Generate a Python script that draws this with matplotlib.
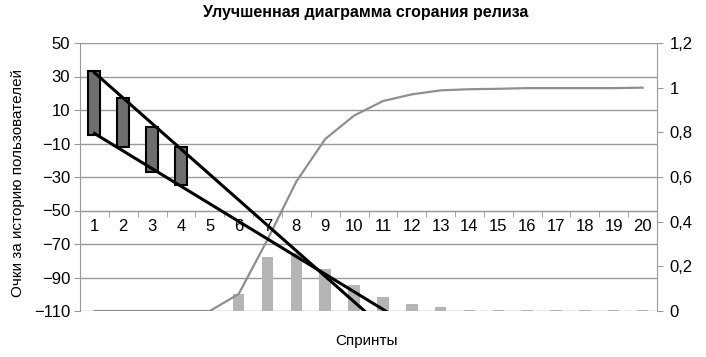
import numpy as np
import matplotlib
matplotlib.use("Agg")
import matplotlib.pyplot as plt
from matplotlib.ticker import FixedLocator, FuncFormatter

plt.rcParams['font.family'] = ['Liberation Sans', 'DejaVu Sans']

# ---- data ----
sprints = list(range(1, 21))
range_sprints = [1, 2, 3, 4]
range_top = [33, 17, 0, -12]
range_bottom = [-5, -12, -27, -35]
prob = [0, 0, 0, 0, 0, 0.076, 0.24, 0.26, 0.19, 0.117, 0.063, 0.031, 0.018,
        0.004, 0.003, 0.003, 0.003, 0.003, 0.003, 0.003]
cum = [0, 0, 0, 0, 0, 0.076, 0.32, 0.58, 0.77, 0.875, 0.94, 0.97, 0.988,
       0.993, 0.995, 0.998, 0.998, 0.998, 0.998, 1.0]
left_ticks = [50, 30, 10, -10, -30, -50, -70, -90, -110]
right_ticks = [0, 0.2, 0.4, 0.6, 0.8, 1.0, 1.2]

title = "Улучшенная диаграмма сгорания релиза"
ylabel = "Очки за историю пользователей"
xlabel = "Спринты"

grid_c = "#999999"
fig = plt.figure(figsize=(7.06, 3.57), dpi=100)
ax = fig.add_axes([80/706, 46/357, 577/706, 268/357])
ax2 = ax.twinx()

ax.set_xlim(0.5, 20.5)
ax.set_ylim(-110, 50)
ax2.set_ylim(0, 1.2)

# left axis styling
ax.yaxis.set_major_locator(FixedLocator(left_ticks))
ax.yaxis.set_major_formatter(FuncFormatter(lambda v, p: f"{v:.0f}".replace('-', '\u2212')))
ax.grid(axis='y', color=grid_c, lw=1)
ax.set_axisbelow(True)
for s in ['top', 'right']:
    ax.spines[s].set_visible(False)
ax.spines['left'].set_color(grid_c)
ax.spines['bottom'].set_position(('data', -50))
ax.spines['bottom'].set_color(grid_c)
ax.tick_params(axis='y', colors=grid_c, labelcolor='black', labelsize=12, length=4, pad=3)
ax.set_xticks(sprints)
ax.set_xticks(np.arange(0.5, 21, 1), minor=True)
ax.tick_params(axis='x', which='major', length=0, labelsize=12, pad=6)
ax.tick_params(axis='x', which='minor', length=4, colors=grid_c, direction='out')

# right axis styling
for s in ['top', 'left', 'bottom']:
    ax2.spines[s].set_visible(False)
ax2.spines['right'].set_color(grid_c)
ax2.yaxis.set_major_locator(FixedLocator(right_ticks))
ax2.yaxis.set_major_formatter(FuncFormatter(lambda v, p: ("0" if v == 0 else ("1" if abs(v-1) < 1e-9 else f"{v:.1f}".replace('.', ',')))))
ax2.tick_params(axis='y', colors=grid_c, labelcolor='black', labelsize=12, length=4, pad=5)

# probability bars and cumulative line (right axis)
ax2.bar(sprints, prob, width=0.4, color="#b5b5b5", zorder=1)
ax2.plot(sprints, cum, color="#8f8f8f", lw=1.6, zorder=2)

# floating range bars (left axis)
heights = [t - b for t, b in zip(range_top, range_bottom)]
ax2.bar(range_sprints, heights, bottom=range_bottom, width=0.42, color="#6e6e6e",
        edgecolor="black", lw=1.5, transform=ax.transData, zorder=3)

# trend lines through tops and bottoms
xt = np.linspace(1, 13, 50)
for ys in (range_top, range_bottom):
    k, b = np.polyfit(range_sprints, ys, 1)
    ax2.plot(xt, k * xt + b, color="black", lw=2.2, transform=ax.transData, zorder=4)

ax.set_xlim(0.5, 20.5)
ax.set_ylim(-110, 50)
ax2.set_ylim(0, 1.2)

fig.text(366/706, 1 - 12/357, title, ha='center', va='center', fontsize=11.5, fontweight='bold')
fig.text(18/706, 1 - 183/357, ylabel, ha='center', va='center', rotation=90, fontsize=11)
fig.text(366/706, 1 - 341/357, xlabel, ha='center', va='center', fontsize=11)

fig.savefig("out.png", dpi=100)
